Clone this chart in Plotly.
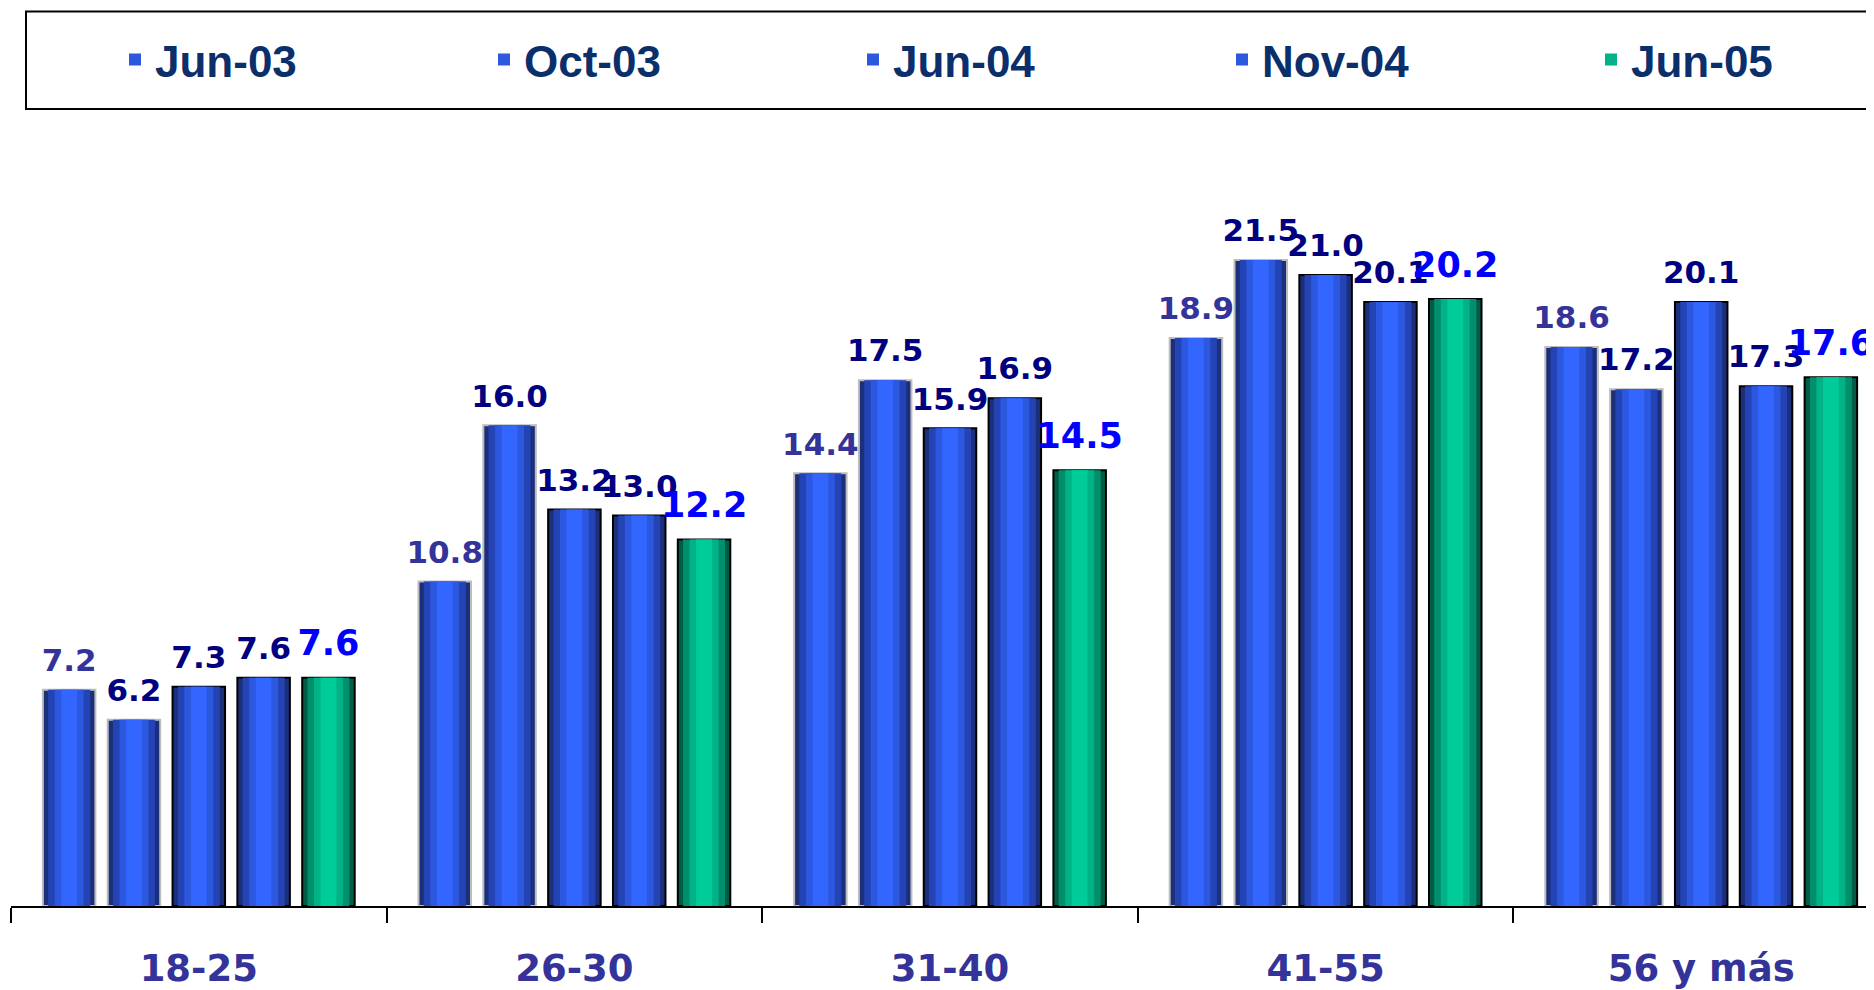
import plotly.graph_objects as go

categories = ["18-25", "26-30", "31-40", "41-55", "56 y más"]
series_names = ["Jun-03", "Oct-03", "Jun-04", "Nov-04", "Jun-05"]
jun03 = [7.2, 10.8, 14.4, 18.9, 18.6]
oct03 = [6.2, 16.0, 17.5, 21.5, 17.2]
jun04 = [7.3, 13.2, 15.9, 21.0, 20.1]
nov04 = [7.6, 13.0, 16.9, 20.1, 17.3]
jun05 = [7.6, 12.2, 14.5, 20.2, 17.6]

series_values = [jun03, oct03, jun04, nov04, jun05]
blue_shades = ["#1c2f7a", "#2443b5", "#2c58e0", "#3366ff"]
green_shades = ["#005c45", "#008f6c", "#00b386", "#00cc99"]
shades = [blue_shades, blue_shades, blue_shades, blue_shades, green_shades]
shade_fracs = [1.0, 0.8, 0.55, 0.3]
legend_layer = 2
borders = ["#bdbdbd", "#bdbdbd", "#000000", "#000000", "#000000"]
label_colors = ["#333399", "#000080", "#000080", "#000080", "#0000ff"]
label_sizes = [31, 31, 31, 31, 35]
label_pads = [16, 16, 16, 16, 20]

BARGAP = 0.137
GROUPGAP = 0.19
bar_w = (1 - BARGAP) / len(series_names) * (1 - GROUPGAP)

fig = go.Figure()
for name, vals, sh, bc in zip(series_names, series_values, shades, borders):
    for k, (frac, col) in enumerate(zip(shade_fracs, sh)):
        kw = {}
        if k > 0:
            kw["width"] = bar_w * frac
        fig.add_trace(go.Bar(
            name=name, x=categories, y=vals, offsetgroup=name, legendgroup=name,
            showlegend=(k == legend_layer),
            marker=dict(color=col, line=dict(color=bc, width=2 if k == 0 else 0)),
            hoverinfo="x+y+name" if k == 0 else "skip", **kw,
        ))
# value labels, grouped the same way as the bars
for name, vals, lc, ls, lp in zip(series_names, series_values, label_colors, label_sizes, label_pads):
    fig.add_trace(go.Scatter(
        name=name, x=categories, y=vals, offsetgroup=name, orientation="v",
        mode="markers+text", marker=dict(size=lp, opacity=0),
        texttemplate="%{y:.1f}", textposition="top center", cliponaxis=False,
        textfont=dict(family="DejaVu Sans", size=ls, color=lc, weight=700),
        showlegend=False, hoverinfo="skip",
    ))

# figure is drawn inside an 8px body margin, so it is 8px smaller than the window
W, H = 1866, 982
ml, mr, mt, mb = 3, 0, 112, 80
pw, ph = W - ml - mr, H - mt - mb
cat_px = 375.6
xmax = -0.5 + pw / cat_px

def px_x(x):
    return (x - ml) / pw

def px_y(y):
    return (H - mb - y) / ph

fig.add_shape(type="rect", xref="paper", yref="paper",
              x0=px_x(18), x1=px_x(1863), y0=px_y(101), y1=px_y(3),
              line=dict(color="#000000", width=2), fillcolor="rgba(0,0,0,0)")

fig.update_layout(
    width=W, height=H,
    margin=dict(l=ml, r=mr, t=mt, b=mb),
    paper_bgcolor="white", plot_bgcolor="white",
    barmode="group", bargap=BARGAP, bargroupgap=GROUPGAP,
    scattermode="group", scattergap=BARGAP,
    showlegend=True,
    legend=dict(orientation="h", xref="container", yref="container",
                x=107 / W, xanchor="left", y=1 - 52 / H, yanchor="middle",
                entrywidth=324, entrywidthmode="pixels", bgcolor="rgba(0,0,0,0)",
                font=dict(family="Liberation Sans", size=44, color="#0b2f6b", weight=700),
                borderwidth=0),
    xaxis=dict(range=[-0.5, xmax], showline=True, linecolor="black", linewidth=2,
               ticks="outside", tickson="boundaries", ticklen=15, tickwidth=2, tickcolor="black",
               tickfont=dict(family="DejaVu Sans", size=37, color="#333399", weight=700),
               ticklabelstandoff=29, showgrid=False, zeroline=False),
    yaxis=dict(range=[0, ph / 30.2], visible=False, showgrid=False, zeroline=False),
)

fig.write_html("out.html")
